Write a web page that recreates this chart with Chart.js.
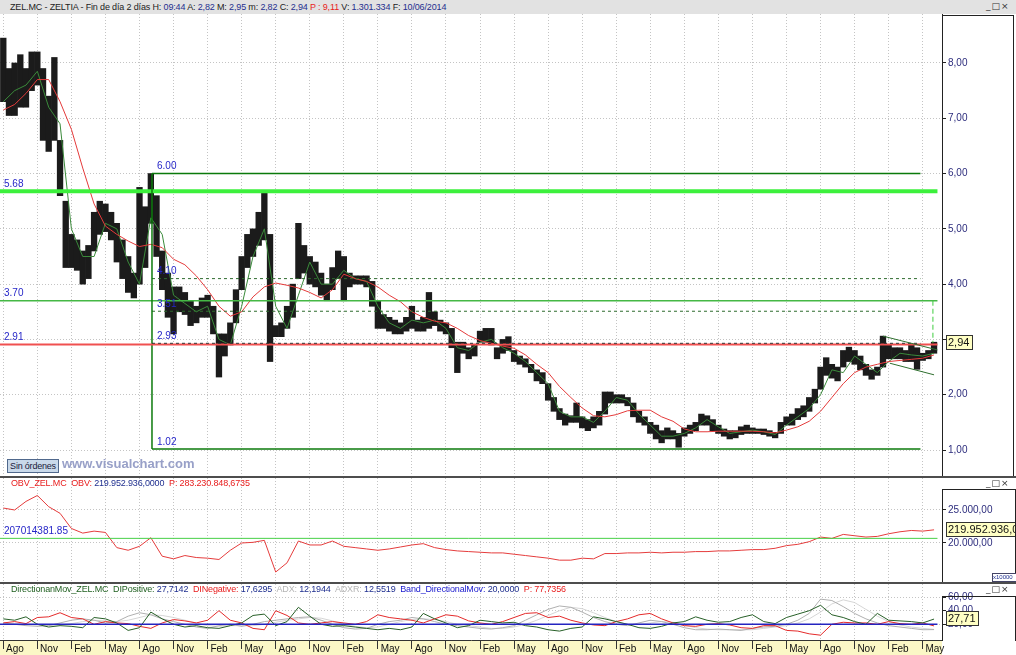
<!DOCTYPE html>
<html lang="es">
<head>
<meta charset="utf-8">
<title>ZEL.MC - ZELTIA</title>
<script src="https://cdn.jsdelivr.net/npm/chart.js@4.4.1/dist/chart.umd.min.js"></script>
<style>
  body { margin: 0; background: #fff; overflow: hidden; font-family: "Liberation Sans", Arial, sans-serif; }
  #wrap { position: relative; width: 1016px; height: 655px; }
  canvas { position: absolute; left: 0; }
  .abs { position: absolute; }
  .hdr { font-size: 9px; line-height: 10px; white-space: nowrap; letter-spacing: -0.15px; color: #222; }
  .nv { color: #1f2f8f; }
  .rd { color: #e81c1c; }
  .gr { color: #1f5f1f; }
  .lg { color: #b5b5b5; }
  .bl { color: #2020d0; }
  .btns { font: 9px "DejaVu Sans", sans-serif; color: #333; letter-spacing: 1px; }
  .sep { left: 0; width: 1016px; height: 2px; background: #4d4d4d; }
  .frame { border: 1px solid #222; border-bottom: none; }
</style>
</head>
<body>
<div id="wrap">
  <div class="abs" style="left:0;top:0;width:1016px;height:14px;background:#e2e2e2"></div>
  <div class="abs hdr" style="left:10px;top:2px">ZEL.MC - ZELTIA - Fin de día 2 días H: <span class="nv">09:44</span> A: <span class="nv">2,82</span> M: <span class="nv">2,95</span> m: <span class="nv">2,82</span> C: <span class="nv">2,94</span> <span class="rd">P : 9,11</span> V: <span class="nv">1.301.334</span> F: <span class="nv">10/06/2014</span></div>
  <div class="abs btns" style="left:986px;top:1px">_□×</div>

  <canvas id="mainChart" width="1016" height="462" style="top:14px"></canvas>
  <div class="abs frame" style="left:942px;top:15px;width:71px;height:461px;border-left:none"></div>
  <div class="abs" style="left:7px;top:459px;width:50px;height:12px;border:1px solid #50688c;background:#c9d9ea;font-size:9px;line-height:12px;text-align:center;white-space:nowrap;letter-spacing:-0.2px;color:#1a1a3a">Sin órdenes</div>
  <div class="abs" style="left:62px;top:456px;font:bold 13px 'Liberation Sans',Arial,sans-serif;color:#98a0c8">www.visualchart.com</div>

  <div class="abs sep" style="top:476px"></div>
  <canvas id="obvChart" width="1016" height="104" style="top:478px"></canvas>
  <div class="abs hdr" style="left:11px;top:478px"><span class="rd">OBV_ZEL.MC&nbsp; OBV:</span> <span class="nv">219.952.936,0000</span>&nbsp; <span class="rd">P: 283.230.848,6735</span></div>
  <div class="abs btns" style="left:986px;top:478px">_□×</div>
  <div class="abs frame" style="left:942px;top:489px;width:72px;height:93px"></div>
  <div class="abs" style="left:992px;top:573px;width:23px;height:7px;border:1px solid #446;font-size:6px;line-height:7px;color:#1f2f8f;background:#fff">x10000</div>

  <div class="abs sep" style="top:582px"></div>
  <canvas id="dmiChart" width="1016" height="71" style="top:584px"></canvas>
  <div class="abs hdr" style="left:11px;top:584px"><span class="gr">DirectionanMov_ZEL.MC&nbsp; DIPositive:</span> <span class="nv">27,7142</span>&nbsp; <span class="rd">DINegative:</span> <span class="nv">17,6295</span>&nbsp; <span class="lg">ADX:</span> <span class="nv">12,1944</span>&nbsp; <span class="lg">ADXR:</span> <span class="nv">12,5519</span>&nbsp; <span class="bl">Band_DirectionalMov:</span> <span class="nv">20,0000</span>&nbsp; <span class="rd">P: 77,7356</span></div>
  <div class="abs btns" style="left:986px;top:584px">_□×</div>
  <div class="abs frame" style="left:942px;top:596px;width:72px;height:44px"></div>
</div>

<script>
// x values are months since 1 Aug 2007; price bars come every half month
const priceLow = [7.3,7.05,7.05,7.2,7.2,7.5,7.6,6.6,6.4,6.6,
  5.6,4.3,4.3,4.25,4.0,4.1,4.6,4.9,4.95,4.8,
  4.4,4.1,3.85,3.75,4.0,4.3,5.1,4.5,3.9,3.4,
  3.1,3.5,3.45,3.25,3.3,3.4,3.4,3.1,2.32,2.7,
  2.9,3.3,3.9,4.3,4.5,4.7,4.8,2.6,3.05,3.05,
  3.2,3.4,4.1,4.2,4.0,3.95,3.8,3.7,3.9,4.1,
  3.7,3.95,4.0,4.0,3.95,3.6,3.2,3.2,3.15,3.1,
  3.1,3.15,3.2,3.15,3.15,3.2,3.25,3.15,3.1,2.85,
  2.4,2.75,2.65,2.7,2.95,2.95,2.9,2.65,2.75,2.8,
  2.6,2.55,2.5,2.4,2.25,2.2,1.9,1.7,1.55,1.45,
  1.5,1.5,1.4,1.35,1.4,1.45,1.65,1.85,1.85,1.85,
  1.8,1.6,1.5,1.45,1.3,1.2,1.13,1.2,1.2,1.05,
  1.25,1.3,1.35,1.45,1.45,1.35,1.3,1.25,1.2,1.22,
  1.28,1.3,1.3,1.3,1.28,1.25,1.22,1.3,1.45,1.45,
  1.55,1.6,1.7,1.85,2.1,2.35,2.3,2.25,2.5,2.6,
  2.55,2.45,2.35,2.28,2.35,2.5,2.65,2.65,2.65,2.6,
  2.6,2.46,2.62,2.65,2.75];
const priceHigh = [8.45,7.9,8.0,8.15,7.9,8.2,8.2,7.9,7.4,8.1,
  6.6,5.5,4.9,4.8,4.6,4.7,5.3,5.5,5.45,5.3,
  5.1,4.8,4.5,4.2,5.75,5.4,6.0,5.6,4.6,4.2,
  3.95,3.95,3.85,3.7,3.6,3.75,3.8,3.6,3.1,3.1,
  3.3,3.9,4.5,4.9,5.0,5.3,5.67,4.9,3.25,3.3,
  3.6,4.0,5.1,4.7,4.5,4.4,4.2,4.0,4.3,4.6,
  4.5,4.2,4.15,4.15,4.15,4.05,3.7,3.45,3.4,3.35,
  3.3,3.4,3.6,3.35,3.4,3.85,3.5,3.35,3.3,3.2,
  2.95,2.95,2.85,2.9,3.15,3.2,3.2,2.85,3.0,3.05,
  2.8,2.7,2.65,2.55,2.45,2.4,2.2,1.95,1.75,1.65,
  1.62,1.85,1.6,1.55,1.6,1.7,2.05,2.05,2.0,2.0,
  1.95,1.85,1.7,1.6,1.5,1.45,1.35,1.4,1.35,1.3,
  1.4,1.45,1.5,1.65,1.62,1.55,1.45,1.38,1.35,1.35,
  1.42,1.45,1.4,1.38,1.38,1.35,1.32,1.5,1.6,1.65,
  1.75,1.8,1.95,2.1,2.5,2.67,2.55,2.5,2.8,2.86,
  2.8,2.7,2.55,2.45,2.5,3.06,2.9,2.85,2.85,2.8,
  2.9,2.85,2.75,2.8,2.95];

// monthly series (one value per month, Aug 2007 .. Jun 2014)
const maFast = [7.3,7.5,7.6,7.85,7.2,6.9,5.0,4.5,4.5,5.1,
  5.0,4.4,4.0,5.2,4.9,3.8,3.65,3.5,3.6,3.0,
  2.9,3.6,4.5,5.0,3.6,3.2,3.8,4.4,4.0,4.0,
  4.25,4.1,4.05,3.6,3.3,3.2,3.35,3.3,3.35,3.2,
  2.85,2.8,2.95,3.0,2.85,2.75,2.6,2.4,2.2,1.7,
  1.6,1.6,1.5,1.7,1.95,1.9,1.65,1.45,1.25,1.25,
  1.3,1.4,1.55,1.42,1.3,1.33,1.36,1.33,1.28,1.45,
  1.6,1.75,2.0,2.45,2.4,2.7,2.55,2.4,2.6,2.75,
  2.72,2.7,2.75];
const maSlow = [7.15,7.25,7.45,7.7,7.7,7.3,6.8,6.1,5.45,5.05,
  4.9,4.78,4.68,4.72,4.66,4.45,4.35,4.15,3.9,3.6,
  3.42,3.5,3.77,3.95,4.02,3.98,3.93,3.85,3.75,3.9,
  4.18,4.1,4.05,3.95,3.8,3.68,3.5,3.4,3.33,3.3,
  3.2,3.07,2.98,2.93,2.88,2.84,2.72,2.55,2.4,2.15,
  1.95,1.76,1.62,1.6,1.64,1.71,1.72,1.72,1.6,1.52,
  1.38,1.33,1.33,1.34,1.34,1.34,1.34,1.33,1.31,1.36,
  1.42,1.52,1.7,1.95,2.2,2.4,2.5,2.55,2.6,2.62,
  2.64,2.66,2.72];
// OBV in units of 10000
const obv = [25300,25000,26300,27200,25500,24500,22200,21500,21800,21600,
  19300,18900,19500,20800,18000,17600,18100,17800,17700,17500,
  18900,20000,20100,20400,15600,17000,20300,19700,19700,20300,
  19500,19300,19100,18900,19100,19400,19700,19900,19300,19000,
  18800,18700,18600,18500,18500,18300,18100,17900,17700,17400,
  17400,17700,17600,18400,18400,18500,18500,18600,18500,18600,
  18600,18700,18700,18800,18800,18900,19000,19000,19200,19600,
  19800,20200,20900,20700,21300,21100,20900,21000,21400,21700,
  21900,21800,21995.2936];
const diPlus = [28,26,31,20,16,18,17,15,30,28,
  22,11,15,38,28,20,16,18,15,14,
  18,22,33,35,18,24,45,32,20,17,
  18,16,14,12,14,12,16,36,28,22,
  15,18,26,24,22,23,18,16,12,10,
  14,16,31,28,24,20,15,14,17,22,
  24,31,26,23,24,30,34,24,21,30,
  35,40,48,34,30,24,20,36,26,25,
  24,22,27.71];
const diMinus = [22,24,21,30,31,37,30,28,20,24,
  22,21,17,14,22,27,25,22,26,40,
  26,22,14,12,40,33,22,20,22,24,
  22,20,24,34,30,28,26,22,28,34,
  32,25,22,20,24,30,36,37,30,32,
  26,22,19,18,24,28,34,36,28,22,
  18,17,20,21,19,15,14,18,18,11,
  10,6,4,20,23,22,22,20,24,21,
  20,22,17.63];
const adx = [22,20,18,17,18,22,26,28,26,22,
  24,32,37,34,28,24,20,16,14,18,
  20,17,20,24,26,28,30,31,26,20,
  15,13,14,20,24,26,30,28,24,20,
  18,16,14,13,15,18,26,34,42,47,
  45,38,30,24,20,18,22,26,24,20,
  15,12,12,13,12,11,14,16,17,20,
  26,36,57,55,46,36,28,22,18,16,
  14,12,12.19];
const adxr = [20,21,20,19,18,19,21,24,26,25,
  24,26,30,34,33,30,26,22,18,17,
  18,18,18,20,23,26,28,30,29,25,
  20,17,15,16,20,24,27,28,27,24,
  20,18,16,14,14,16,20,26,33,40,
  45,43,37,30,24,20,20,22,24,23,
  19,15,13,12,12,12,12,14,16,18,
  22,28,38,50,56,52,42,32,24,19,
  16,14,12.55];

// drawn levels
const levelLeft = [5.68, 3.70, 2.91];
const levelBox = [6.00, 4.10, 3.51, 2.93, 1.02];
const obvLevel = 20701.438185;
const bandLevel = 20;
const lastClose = 2.94;
const flagUpper = [{ x: 77.5, y: 3.06 }, { x: 82.3, y: 2.81 }];
const flagLower = [{ x: 78.1, y: 2.57 }, { x: 82.0, y: 2.36 }];

// axis labels
const monthNames = ['Ago', 'Nov', 'Feb', 'May'];
const priceTicks = [1, 2, 3, 4, 5, 6, 7, 8];
const obvTicks = [20000, 25000];
const dmiTicks = [20, 40, 60];

const X_MIN = -0.29, X_MAX = 82.7;
const BOX_FROM = 13.1, BOX_TO = 80.8, LINE_TO = 82.3, VLINE_AT = 81.9;
const BAR_STEP = 0.5;

const quarterTicks = [];
for (let m = 0; m <= 81; m += 3) quarterTicks.push(m);

Chart.defaults.font.family = '"Liberation Sans", Arial, sans-serif';
Chart.defaults.animation = false;
Chart.defaults.plugins.legend.display = false;
Chart.defaults.plugins.tooltip.enabled = false;

const comma2 = v => v.toFixed(2).replace('.', ',');
const dots = n => String(n).replace(/\B(?=(\d{3})+(?!\d))/g, '.');
const monthly = arr => arr.map((v, i) => ({ x: i, y: v }));

function line(data, color, width, dash, order) {
    return { type: 'line', data: data, borderColor: color, borderWidth: width, borderDash: dash || [],
             pointRadius: 0, tension: 0, fill: false, order: order || 1 };
}
function hline(v, from, to, color, width, dash) {
    return line([{ x: from, y: v }, { x: to, y: v }], color, width, dash, 1);
}

function timeAxis(withLabels) {
    return {
        type: 'linear', min: X_MIN, max: X_MAX, offset: false,
        afterBuildTicks: s => { s.ticks = quarterTicks.map(v => ({ value: v })); },
        grid: { color: '#c4c4c4', offset: false, drawTicks: withLabels, tickLength: 9, tickColor: '#333' },
        border: { display: withLabels, color: '#333', dash: [1, 2] },
        ticks: {
            display: withLabels, align: 'start', padding: -6, maxRotation: 0, autoSkip: false,
            color: '#111', font: { size: 10 },
            callback: v => ' ' + monthNames[Math.round(v / 3) % 4]
        },
        afterFit: s => { s.paddingLeft = 0; s.paddingRight = 0; s.height = withLabels ? 15 : 0; }
    };
}

function valueAxis(min, max, tickValues, fmt, showBorder) {
    return {
        position: 'right', min: min, max: max,
        afterBuildTicks: s => { s.ticks = tickValues.map(v => ({ value: v })); },
        grid: { color: '#c4c4c4', tickColor: '#222', tickLength: 4 },
        border: { display: showBorder, color: '#222', dash: [1, 2] },
        ticks: { color: '#2d2d7d', font: { size: 10 }, padding: 2, callback: fmt },
        afterFit: s => { s.width = 74; s.paddingTop = 0; s.paddingBottom = 0; }
    };
}

function valueBox(chart, value, text) {
    const { ctx, chartArea } = chart;
    const py = Math.round(chart.scales.y.getPixelForValue(value));
    ctx.save();
    ctx.font = '11px "Liberation Sans", Arial, sans-serif';
    const w = Math.ceil(ctx.measureText(text).width) + 4;
    const x0 = chartArea.right + 4;
    ctx.fillStyle = '#ffffc4';
    ctx.fillRect(x0, py - 8, w, 15);
    ctx.strokeStyle = '#333';
    ctx.lineWidth = 1;
    ctx.strokeRect(x0 + 0.5, py - 7.5, w, 14);
    ctx.fillStyle = '#111';
    ctx.textBaseline = 'middle';
    ctx.fillText(text, x0 + 2, py);
    ctx.restore();
}

const baseOptions = {
    responsive: false,
    maintainAspectRatio: false,
    events: [],
    layout: { padding: 0 }
};

// Price panel
const priceBars = priceLow.map((lo, i) => ({ x: i * BAR_STEP, y: [lo, priceHigh[i]] }));

const mainLabels = {
    id: 'mainLabels',
    afterDatasetsDraw(chart) {
        const { ctx, chartArea, scales: { x, y } } = chart;
        ctx.save();
        ctx.font = '10px "Liberation Sans", Arial, sans-serif';
        ctx.fillStyle = '#2626c8';
        ctx.textBaseline = 'bottom';
        levelLeft.forEach(v => ctx.fillText(v.toFixed(2), chartArea.left + 4, y.getPixelForValue(v) - 2));
        levelBox.forEach(v => ctx.fillText(v.toFixed(2), x.getPixelForValue(BOX_FROM) + 5, y.getPixelForValue(v) - 2));
        ctx.restore();
    },
    afterDraw(chart) {
        valueBox(chart, lastClose, comma2(lastClose));
    }
};

new Chart(document.getElementById('mainChart'), {
    type: 'bar',
    data: {
        datasets: [
            line(flagUpper, '#2f6f2f', 1),
            line(flagLower, '#2f6f2f', 1),
            line([{ x: VLINE_AT, y: levelLeft[1] }, { x: VLINE_AT, y: lastClose }], '#3fcc3f', 1, [5, 3]),
            hline(levelBox[3], BOX_FROM, BOX_TO, '#333', 1, [3, 3]),
            hline(levelLeft[2], X_MIN, LINE_TO, '#f05050', 2),
            hline(levelBox[0], BOX_FROM, BOX_TO, '#0b7a0b', 1.5),
            hline(levelBox[4], BOX_FROM, BOX_TO, '#0b7a0b', 1.5),
            line([{ x: BOX_FROM, y: levelBox[4] }, { x: BOX_FROM, y: levelBox[0] }], '#0b7a0b', 1.5),
            hline(levelBox[1], BOX_FROM, BOX_TO, '#2d6a2d', 1, [3, 3]),
            hline(levelBox[2], BOX_FROM, BOX_TO, '#2d6a2d', 1, [3, 3]),
            hline(levelLeft[1], X_MIN, LINE_TO, '#45b845', 1.5),
            hline(levelLeft[0], X_MIN, LINE_TO, '#3cf03c', 4),
            line(monthly(maSlow), '#e43a3a', 1, null, 2),
            line(monthly(maFast), '#3a8a3a', 1, null, 2),
            { type: 'bar', data: priceBars, backgroundColor: '#1b1b1b', borderWidth: 0,
              barPercentage: 1, categoryPercentage: 1, order: 3 }
        ]
    },
    options: Object.assign({}, baseOptions, {
        scales: {
            x: timeAxis(false),
            // the 3,00 label sits under the last-price box
            y: valueAxis(0.53, 8.886, priceTicks, v => (Math.abs(v - lastClose) < 0.2 ? '' : comma2(v)), true)
        }
    }),
    plugins: [mainLabels]
});

// OBV panel
const obvLabels = {
    id: 'obvLabels',
    afterDatasetsDraw(chart) {
        const { ctx, chartArea, scales: { y } } = chart;
        ctx.save();
        ctx.font = '10px "Liberation Sans", Arial, sans-serif';
        ctx.fillStyle = '#2626c8';
        ctx.textBaseline = 'bottom';
        ctx.fillText((obvLevel * 10000).toFixed(2), chartArea.left + 4, y.getPixelForValue(obvLevel) - 2);
        ctx.restore();
    },
    afterDraw(chart) {
        const last = obv[obv.length - 1];
        valueBox(chart, last, dots(Math.round(last * 10000)) + ',00');
    }
};

new Chart(document.getElementById('obvChart'), {
    type: 'line',
    data: {
        datasets: [
            hline(obvLevel, X_MIN, LINE_TO, '#47d047', 1),
            line(monthly(obv), '#e53c3c', 1)
        ]
    },
    options: Object.assign({}, baseOptions, {
        scales: {
            x: timeAxis(false),
            y: valueAxis(14091, 29848, obvTicks, v => dots(v) + ',00', false)
        }
    }),
    plugins: [obvLabels]
});

// Directional movement panel with the date axis
const dmiLabels = {
    id: 'dmiLabels',
    beforeDraw(chart) {
        const { ctx, chartArea } = chart;
        ctx.save();
        ctx.fillStyle = '#fbf7c6';
        ctx.fillRect(0, chartArea.bottom, chartArea.right, chart.height - chartArea.bottom);
        ctx.restore();
    },
    afterDraw(chart) {
        const last = diPlus[diPlus.length - 1];
        valueBox(chart, last, comma2(last));
    }
};

new Chart(document.getElementById('dmiChart'), {
    type: 'line',
    data: {
        datasets: [
            hline(bandLevel, X_MIN, LINE_TO, '#2424c0', 1.5),
            line(monthly(diPlus), '#275f27', 1),
            line(monthly(diMinus), '#e42a2a', 1),
            line(monthly(adx), '#b0b0b0', 1),
            line(monthly(adxr), '#d6d6d6', 1)
        ]
    },
    options: Object.assign({}, baseOptions, {
        scales: {
            x: timeAxis(true),
            y: valueAxis(-3.1, 79.3, dmiTicks, v => comma2(v), false)
        }
    }),
    plugins: [dmiLabels]
});
</script>
</body>
</html>
